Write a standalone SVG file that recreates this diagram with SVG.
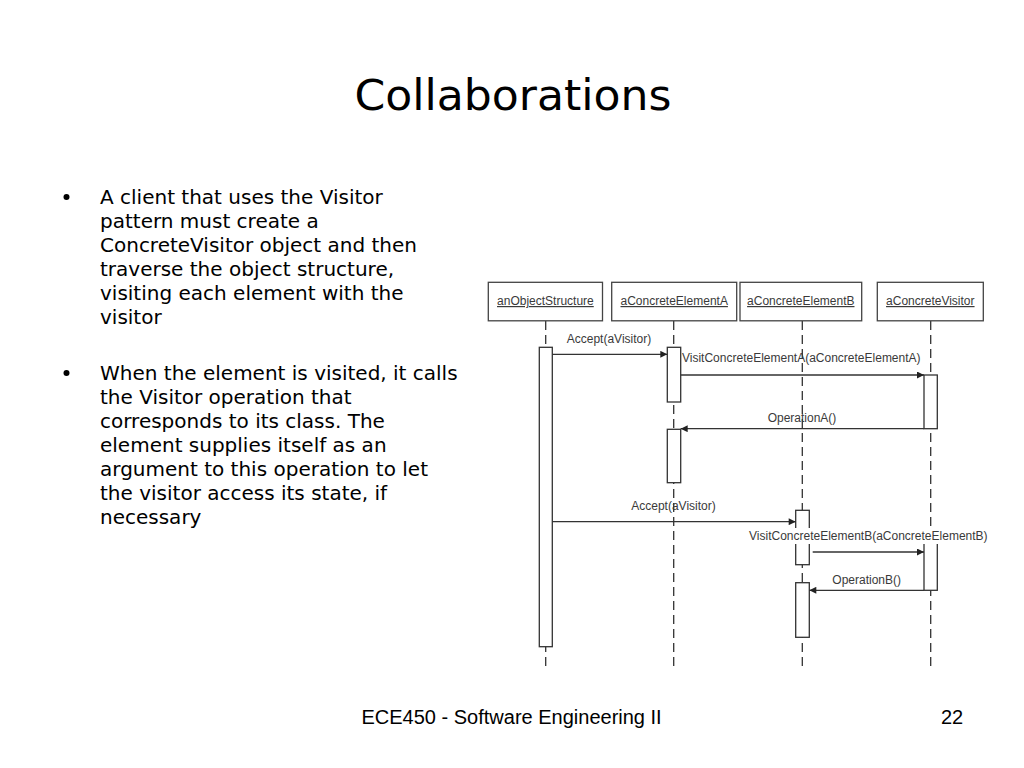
<svg xmlns="http://www.w3.org/2000/svg" width="1024" height="768" viewBox="0 0 1024 768">
  <style>
    .title { font-family: "DejaVu Sans", Verdana, sans-serif; font-size: 43px; fill: #000; }
    .body { font-family: "DejaVu Sans", Verdana, sans-serif; font-size: 20px; fill: #000; }
    .foot { font-family: "Liberation Sans", Arial, sans-serif; font-size: 20px; fill: #000; }
    .lbl { font-family: "Liberation Sans", Arial, sans-serif; font-size: 12px; fill: #3a3a3a; }
    .obj { fill: #fff; stroke: #444; stroke-width: 1.3; }
    .act { fill: #fff; stroke: #333; stroke-width: 1.3; }
    .life { stroke: #333; stroke-width: 1.3; stroke-dasharray: 9 5; fill: none; }
    .msg { stroke: #333; stroke-width: 1.3; fill: none; marker-end: url(#arr); }
  </style>
  <defs>
    <marker id="arr" viewBox="0 0 10 10" refX="10" refY="5" markerWidth="8" markerHeight="7" markerUnits="userSpaceOnUse" orient="auto">
      <path d="M0,0 L10,5 L0,10 Z" fill="#222"/>
    </marker>
  </defs>
  <rect width="1024" height="768" fill="#fff"/>

  <text class="title" x="513" y="110" text-anchor="middle" textLength="317" lengthAdjust="spacingAndGlyphs">Collaborations</text>

  <g id="bullets">
    <circle cx="66.5" cy="197" r="3" fill="#000"/>
    <text class="body" x="100" y="204">A client that uses the Visitor</text>
    <text class="body" x="100" y="228">pattern must create a</text>
    <text class="body" x="100" y="252">ConcreteVisitor object and then</text>
    <text class="body" x="100" y="276">traverse the object structure,</text>
    <text class="body" x="100" y="300">visiting each element with the</text>
    <text class="body" x="100" y="324">visitor</text>
    <circle cx="66.5" cy="373" r="3" fill="#000"/>
    <text class="body" x="100" y="380">When the element is visited, it calls</text>
    <text class="body" x="100" y="404">the Visitor operation that</text>
    <text class="body" x="100" y="428">corresponds to its class. The</text>
    <text class="body" x="100" y="452">element supplies itself as an</text>
    <text class="body" x="100" y="476">argument to this operation to let</text>
    <text class="body" x="100" y="500">the visitor access its state, if</text>
    <text class="body" x="100" y="524">necessary</text>
  </g>

  <g id="lifelines">
    <line class="life" x1="545.7" y1="321" x2="545.7" y2="669"/>
    <line class="life" x1="673.7" y1="321" x2="673.7" y2="669"/>
    <line class="life" x1="802.3" y1="321" x2="802.3" y2="669"/>
    <line class="life" x1="930.7" y1="321" x2="930.7" y2="669"/>
  </g>

  <g id="anObjectStructure">
    <rect class="obj" x="488.3" y="282.3" width="114.2" height="38.5"/>
    <text class="lbl" x="545.4" y="305" text-anchor="middle" text-decoration="underline">anObjectStructure</text>
    <rect class="act" x="539.3" y="347.3" width="13" height="299.4"/>
  </g>
  <g id="aConcreteElementA">
    <rect class="obj" x="611.7" y="282.3" width="125" height="38.5"/>
    <text class="lbl" x="674.2" y="305" text-anchor="middle" text-decoration="underline">aConcreteElementA</text>
    <rect class="act" x="667.3" y="347.3" width="13.4" height="54.7"/>
    <rect class="act" x="667.3" y="429.3" width="13.4" height="53.4"/>
  </g>
  <g id="aConcreteElementB">
    <rect class="obj" x="740" y="282.3" width="121.7" height="38.5"/>
    <text class="lbl" x="800.8" y="305" text-anchor="middle" text-decoration="underline">aConcreteElementB</text>
    <rect class="act" x="795.7" y="510.3" width="13.6" height="54.4"/>
    <rect class="act" x="795.7" y="582.7" width="13.6" height="54.6"/>
  </g>
  <g id="aConcreteVisitor">
    <rect class="obj" x="877.3" y="282.3" width="106" height="38.5"/>
    <text class="lbl" x="930.3" y="305" text-anchor="middle" text-decoration="underline">aConcreteVisitor</text>
    <rect class="act" x="924" y="375" width="13.3" height="53.7"/>
    <rect class="act" x="924" y="540" width="13.3" height="50.3"/>
  </g>

  <g id="connectors">
    <line class="msg" x1="552.3" y1="354.3" x2="667.3" y2="354.3"/>
    <text class="lbl" x="609" y="343" text-anchor="middle">Accept(aVisitor)</text>
    <line class="msg" x1="680.7" y1="375" x2="924" y2="375"/>
    <text class="lbl" x="682" y="362">VisitConcreteElementA(aConcreteElementA)</text>
    <line class="msg" x1="924" y1="428.7" x2="680.7" y2="428.7"/>
    <text class="lbl" x="802" y="422" text-anchor="middle">OperationA()</text>
    <line class="msg" x1="552.3" y1="521.7" x2="795.7" y2="521.7"/>
    <text class="lbl" x="673.5" y="509.5" text-anchor="middle">Accept(aVisitor)</text>
    <rect x="748" y="528" width="241" height="16" fill="#fff"/>
    <text class="lbl" x="868.3" y="539.5" text-anchor="middle">VisitConcreteElementB(aConcreteElementB)</text>
    <line class="msg" x1="812.7" y1="552" x2="924" y2="552"/>
    <line class="msg" x1="924" y1="590.3" x2="809.3" y2="590.3"/>
    <text class="lbl" x="866.7" y="583.5" text-anchor="middle">OperationB()</text>
  </g>

  <text class="foot" x="361.5" y="724">ECE450 - Software Engineering II</text>
  <text class="foot" x="941" y="724">22</text>
</svg>
